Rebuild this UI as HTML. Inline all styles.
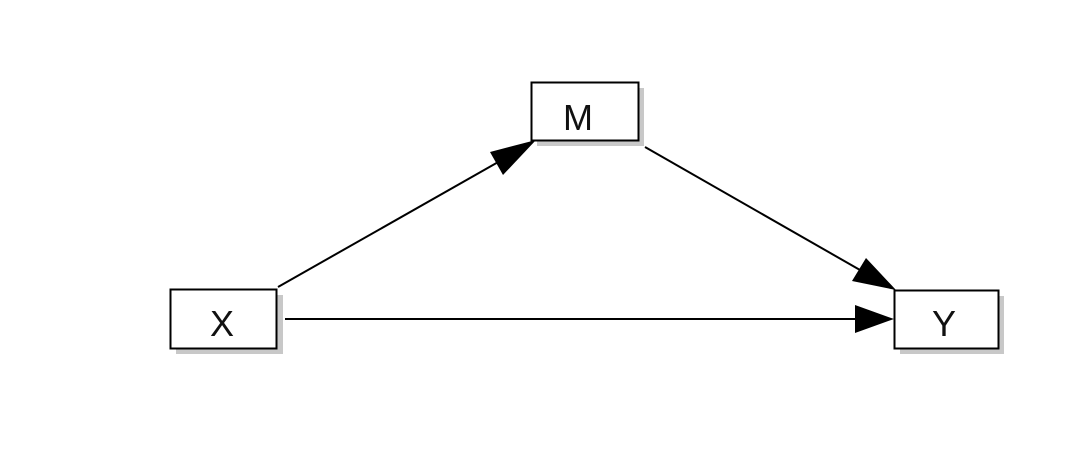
<!DOCTYPE html>
<html><head><style>
html,body{margin:0;padding:0;background:#fff;}
</style></head><body>
<svg width="1080" height="454" xmlns="http://www.w3.org/2000/svg">
<rect width="1080" height="454" fill="#fff"/>
<!-- shadows -->
<rect x="537" y="88" width="107" height="58" fill="#c8c8c8"/>
<rect x="176" y="295" width="107" height="59" fill="#c8c8c8"/>
<rect x="900" y="296" width="104" height="58" fill="#c8c8c8"/>
<!-- boxes -->
<rect x="531.5" y="82.5" width="107" height="58" fill="#fff" stroke="#000" stroke-width="2"/>
<rect x="170.5" y="289.5" width="106" height="59" fill="#fff" stroke="#000" stroke-width="2"/>
<rect x="894.5" y="290.5" width="104" height="58" fill="#fff" stroke="#000" stroke-width="2"/>
<g font-family="Liberation Sans, sans-serif" font-size="36" text-anchor="middle" fill="#111">
<text x="578" y="130">M</text>
<text x="222" y="336">X</text>
<text x="944" y="336">Y</text>
</g>
<!-- lines -->
<g stroke="#000" stroke-width="2">
<line x1="278" y1="287" x2="500" y2="161"/>
<line x1="645" y1="147" x2="860" y2="270"/>
<line x1="285" y1="319" x2="856" y2="319"/>
</g>
<g fill="#000">
<polygon points="536,140 490,152 503,175"/>
<polygon points="896,290 852,281 866,258"/>
<polygon points="894,319 855,305 855,333"/>
</g>
</svg>
</body></html>
